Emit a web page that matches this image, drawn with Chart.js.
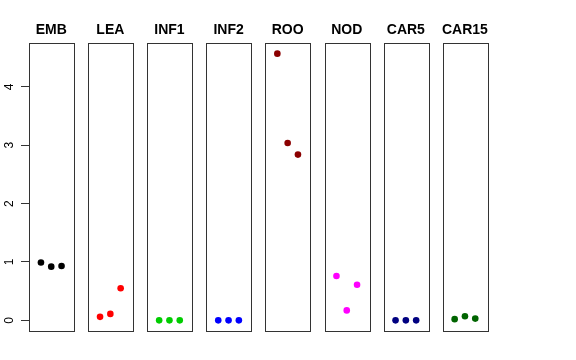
<!DOCTYPE html>
<html>
<head>
<meta charset="utf-8">
<script src="https://cdn.jsdelivr.net/npm/chart.js@4"></script>
<style>
  html, body { margin: 0; padding: 0; background: #fff; }
  #wrap { position: relative; width: 576px; height: 360px; }
  #wrap canvas { position: absolute; left: 0; top: 0; }
</style>
</head>
<body>
<div id="wrap"></div>
<script>
  // panel names and colours, left to right
  const panelNames = ['EMB', 'LEA', 'INF1', 'INF2', 'ROO', 'NOD', 'CAR5', 'CAR15'];
  const panelColors = ['#000000', '#FF0000', '#00CD00', '#0000FF', '#8B0000', '#FF00FF', '#000080', '#006400'];

  // three replicates per panel, x = 1, 2, 3
  const replicate = [1, 2, 3];
  const emb = [0.99, 0.92, 0.93];
  const lea = [0.06, 0.11, 0.55];
  const inf1 = [0, 0, 0];
  const inf2 = [0, 0, 0];
  const roo = [4.57, 3.04, 2.84];
  const nod = [0.76, 0.17, 0.61];
  const car5 = [0, 0, 0];
  const car15 = [0.02, 0.07, 0.03];
  const yTicks = [0, 1, 2, 3, 4];

  const panelValues = [emb, lea, inf1, inf2, roo, nod, car5, car15];

  // shared y limits, R-style 4% extension of the data range
  const allVals = panelValues.flat();
  const dMin = Math.min(...allVals), dMax = Math.max(...allVals);
  const ext = (dMax - dMin) * 0.04;
  const Y_MIN = dMin - ext, Y_MAX = dMax + ext;

  const W = 576, H = 360;
  const TOP = 43, BOTTOM = 331;
  const FIRST_LEFT = 29, STEP = 59.1, PANEL_W = 44.5;

  const boxPlugin = {
    id: 'panelBox',
    afterDraw(chart, args, opts) {
      const a = chart.chartArea;
      const ctx = chart.ctx;
      ctx.save();
      ctx.strokeStyle = '#333';
      ctx.lineWidth = 1;
      ctx.strokeRect(Math.round(a.left) + 0.5, Math.round(a.top) + 0.5,
                     Math.round(a.right - a.left), Math.round(a.bottom - a.top));
      // title
      ctx.fillStyle = '#000';
      ctx.font = 'bold 14px "Liberation Sans", Arial, sans-serif';
      ctx.textAlign = 'center';
      ctx.textBaseline = 'alphabetic';
      ctx.fillText(opts.title, (a.left + a.right) / 2, 34);
      // rotated y labels on first panel only
      if (opts.yLabels) {
        const ys = chart.scales.y;
        ctx.font = '12px "Liberation Sans", Arial, sans-serif';
        ctx.textBaseline = 'middle';
        yTicks.forEach(v => {
          const py = ys.getPixelForValue(v);
          ctx.save();
          ctx.translate(10, py);
          ctx.rotate(-Math.PI / 2);
          ctx.fillText(String(v), 0, 0);
          ctx.restore();
        });
      }
      ctx.restore();
    }
  };

  const wrap = document.getElementById('wrap');

  panelNames.forEach((name, i) => {
    const canvas = document.createElement('canvas');
    canvas.width = W; canvas.height = H;
    wrap.appendChild(canvas);

    const left = FIRST_LEFT + STEP * i;
    const right = left + PANEL_W;
    const first = i === 0;

    const yScale = {
      type: 'linear',
      display: first,
      position: 'left',
      min: Y_MIN,
      max: Y_MAX,
      afterBuildTicks: s => { s.ticks = yTicks.map(v => ({ value: v })); },
      ticks: { display: false },
      border: { display: false },
      grid: { drawOnChartArea: false, drawTicks: true, tickLength: 8, color: '#333', lineWidth: 1 }
    };
    if (first) yScale.afterFit = s => { s.width = FIRST_LEFT; };

    new Chart(canvas.getContext('2d'), {
      type: 'scatter',
      data: {
        datasets: [{
          data: replicate.map((x, k) => ({ x: x, y: panelValues[i][k] })),
          backgroundColor: panelColors[i],
          borderWidth: 0,
          pointRadius: 3.3,
          pointHoverRadius: 3.3
        }]
      },
      options: {
        responsive: false,
        animation: false,
        events: [],
        layout: { padding: { left: first ? 0 : left, right: W - right, top: TOP, bottom: H - BOTTOM } },
        plugins: {
          legend: { display: false },
          tooltip: { enabled: false },
          title: { display: false },
          panelBox: { title: name, yLabels: first }
        },
        scales: {
          x: { type: 'linear', display: false, min: -0.16, max: 4.16 },
          y: yScale
        }
      },
      plugins: [boxPlugin]
    });
  });
</script>
</body>
</html>
